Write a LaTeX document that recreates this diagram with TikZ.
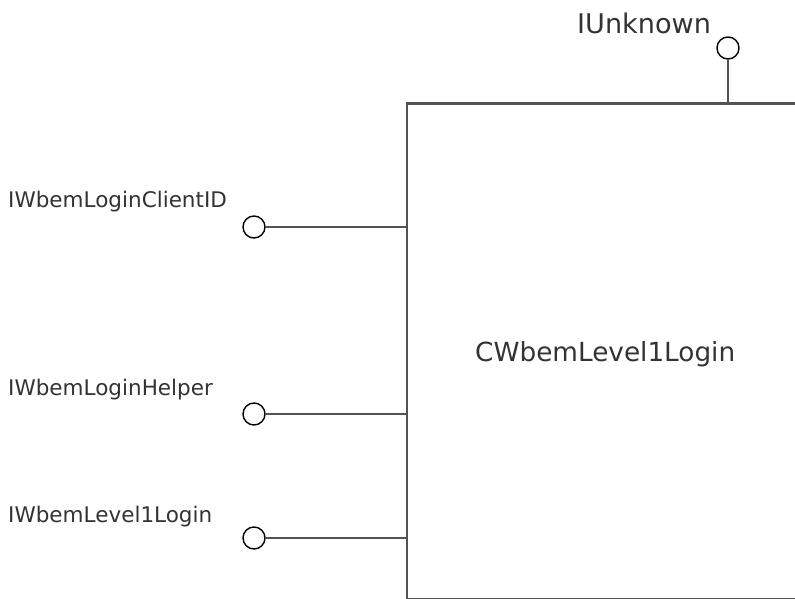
\documentclass[tikz,border=0pt]{standalone}
\usepackage{fontspec}
\setmainfont{DejaVu Sans}
\begin{document}
\begin{tikzpicture}[x=1bp,y=-1bp,
  conn/.style={draw=black!68,line width=2.3bp},
  lolly/.style={circle,draw=black,line width=1.4bp,fill=white,minimum size=22bp,inner sep=0pt},
  lbl/.style={anchor=base west,inner sep=0pt,text=black!80,font=\fontsize{21.6}{26}\selectfont},
  mainlbl/.style={anchor=base west,inner sep=0pt,text=black!80,font=\fontsize{26.4}{30}\selectfont}]
\useasboundingbox (0,0) rectangle (795,599);
\begin{scope}
\clip (0,0) rectangle (795,599);
\draw[conn] (407,103.5) rectangle (820,599.6);
\end{scope}
\coordinate (boxtop) at (728,103.5);
\coordinate (b1) at (407,227);
\coordinate (b2) at (407,414);
\coordinate (b3) at (407,538);
\node[lolly] (iu) at (728,48) {};
\node[lolly] (c1) at (254,227) {};
\node[lolly] (c2) at (254,414) {};
\node[lolly] (c3) at (254,538) {};
\draw[conn] (iu.south) -- (boxtop);
\draw[conn] (c1.east) -- (b1);
\draw[conn] (c2.east) -- (b2);
\draw[conn] (c3.east) -- (b3);
\node[mainlbl,font=\fontsize{27.2}{30}\selectfont] (tiu) at (577,34) {IUnknown};
\node[lbl] (t1) at (8,208) {IWbemLoginClientID};
\node[lbl] (t2) at (8,395) {IWbemLoginHelper};
\node[lbl] (t3) at (8,522) {IWbemLevel1Login};
\node[mainlbl] (tm) at (475,361) {CWbemLevel1Login};
\end{tikzpicture}
\end{document}
